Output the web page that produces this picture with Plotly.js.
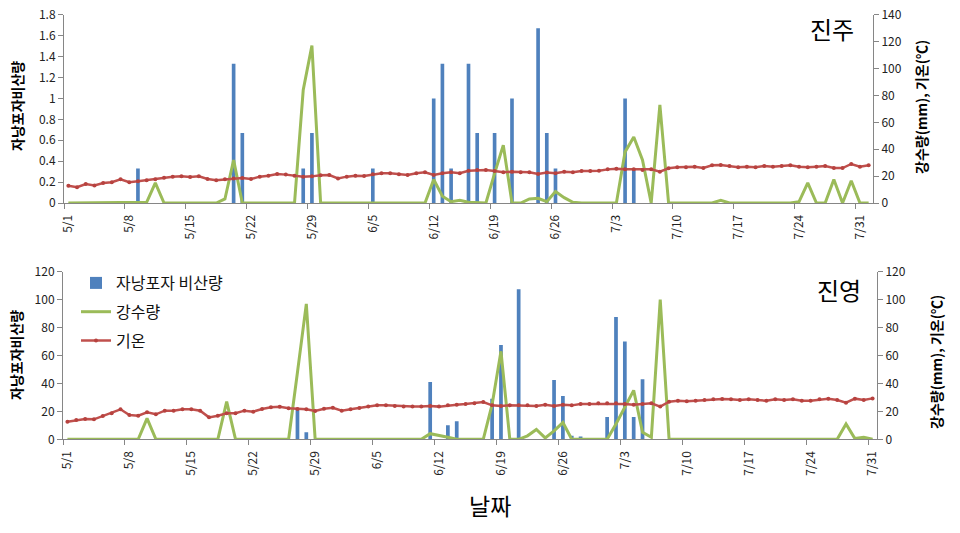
<!DOCTYPE html>
<html><head><meta charset="utf-8">
<script src="https://cdn.plot.ly/plotly-3.0.1.min.js"></script>
<style>html,body{margin:0;padding:0;background:#fff}#chart{width:960px;height:533px}</style>
</head><body><div id="chart"></div>
<script>
// ---- categories: consecutive days from 5/1 ----
function dayList(n){const out=[];const t0=Date.UTC(2014,4,1);for(let i=0;i<n;i++){out.push(new Date(t0+i*86400000).toISOString().slice(0,10));}return out;}
const jinjuDates = dayList(93);     // 5/1 - 8/1
const jinyeongDates = dayList(92);  // 5/1 - 7/31

// ---- 진주 ----
const jinjuSpore = [
0,0,0,0,0,0,0,0,0.33,0,
0,0,0,0,0,0,0,0,0,1.33,
0.67,0,0,0,0,0,0,0.33,0.67,0,
0,0,0,0,0,0.33,0,0,0,0,
0,0,1,1.33,0.33,0,1.33,0.67,0,0.67,
0,1,0,0,1.67,0.67,0.33,0,0,0,
0,0,0,0,1,0.33,0,0,0,0,
0,0,0,0,0,0,0,0,0,0,
0,0,0,0,0,0,0,0,0,0,
0,0,0];
const jinjuRain = [
0,0,0,0,0,0,0,0,0,0.5,
15,0,0,0,0,0,0,0,3,32,
0,0,0,0,0,0,0,84,117,0,
0,0,0,0,0,0,0,0,0,0,
0,0,17.5,5,1,2,0.5,0,0,22,
43,0,0,3,3.5,1,8.5,4,0.5,0,
0,0,0,0,38,49,32,0,73,0,
0,0,0,0,0,2,0,0,0,0,
0,0,0.5,0,1,15,0,0,17.5,0,
16.5,0,0];
const jinjuTemp = [
12.9,11.7,14.1,13.1,14.9,15.4,17.6,15.4,16.1,16.9,
17.6,18.8,19.6,19.8,19.3,19.8,17.8,16.9,17.6,18.3,
18.6,17.8,19.6,20.3,21.6,21.1,20.3,19.6,19.8,20.6,
20.8,18.3,19.6,20.3,20.1,21.3,22.1,22.1,21.3,20.8,
22.1,22.8,20.8,22.1,22.8,22.1,24.0,24.5,24.5,23.8,
22.8,23.3,22.8,22.8,21.6,22.6,22.1,23.3,22.8,23.8,
23.8,24.0,25.0,25.5,25.0,25.0,24.5,25.0,23.3,25.8,
26.5,26.5,27.0,26.0,28.0,28.3,27.5,26.5,27.0,26.5,
27.5,27.0,27.5,28.0,27.0,26.5,27.0,27.5,26.0,26.0,
29.0,27.0,28.0];

// ---- 진영 ----
const jinyeongSpore = [
0,0,0,0,0,0,0,0,0,0,
0,0,0,0,0,0,1,0,0,0,
0,0,0,0,0,0,22,5,0,0,
0,0,0,0,0,0,0,0.8,0,0,
0,41,0,10,13,0,0,0,29,67.5,
0,107.5,0,0,0,42.5,31,2.5,2,0,
0,16,87.5,70,16,43,0,0,0,1,
0,0,0,0,0,0,0,0,0,0,
0,0,0,0,0,0,0,0,0,0,
0,0];
const jinyeongRain = [
0,0,0,0,0,0,0,0,0,15,
0,0,0,0,0,0,0,0,27,0,
0,0,0,0,0,0,48,97,0,0,
0,0,0,0,0,0,0,0,0,0,
0,4,3,1.5,0,0,0,0,25,63,
0,0,2.5,7,1,6,12,0,0,0,
0,0,11,23,35,5,1.5,100,0,0,
0,0,0,0,0,0,0,0,0,0,
0,0,0,0,0,0,0,0,11,0.5,
1.5,0];
const jinyeongTemp = [
12.6,13.8,14.5,14.3,16.7,18.6,21.5,17.4,16.9,19.3,
17.9,20.5,20.5,21.5,21.5,20.5,15.7,16.9,18.6,18.6,
20.5,19.8,21.7,22.9,23.3,22.2,21.7,21.5,20.3,21.9,
22.6,20.5,21.5,22.4,23.4,24.3,24.3,23.9,23.4,23.4,
23.4,23.9,23.4,24.3,24.8,25.3,25.8,26.7,24.3,23.9,
24.3,24.3,24.3,23.9,24.8,23.9,24.8,24.3,25.3,25.3,
25.8,25.8,25.8,25.3,24.8,25.3,25.8,23.4,26.9,27.6,
27.2,27.6,28.1,28.6,28.9,28.6,28.1,28.6,28.1,27.6,
28.6,28.1,28.6,27.6,27.6,28.6,29.1,28.1,26.2,29.1,
28.1,29.3];

const seriesNames = ['자낭포자 비산량','강수량','기온'];
const siteNames = ['진주','진영'];

const FONT = '"Noto Sans CJK KR", "Malgun Gothic", sans-serif';
const DAY = 86400000;
const AX = '#868686';
const BLUE = '#4F81BD', GREEN = '#9BBB59', RED = '#C0504D';

function makeTraces(dates, spore, rain, temp, xa, yl, yr, legend){
  return [
    {type:'bar', x:dates, y:spore, xaxis:xa, yaxis:yl, name:seriesNames[0], legendgroup:'a',
     marker:{color:BLUE, line:{width:0}}, width:0.42*DAY, showlegend:legend},
    {type:'scatter', mode:'lines', x:dates, y:rain, xaxis:xa, yaxis:yr, name:seriesNames[1], legendgroup:'b',
     line:{color:GREEN, width:3}, showlegend:legend},
    {type:'scatter', mode:'lines+markers', x:dates, y:temp, xaxis:xa, yaxis:yr, name:seriesNames[2], legendgroup:'c',
     line:{color:RED, width:2.5}, marker:{color:'#B7423F', size:4}, showlegend:legend}
  ];
}

const data = [
  ...makeTraces(jinjuDates, jinjuSpore, jinjuRain, jinjuTemp, 'x', 'y', 'y2', false),
  ...makeTraces(jinyeongDates, jinyeongSpore, jinyeongRain, jinyeongTemp, 'x2', 'y3', 'y4', true)
];

const tickFont = {family:FONT, size:12, color:'#222'};
function xAxis(domain, anchor, endDate){
  return {type:'date', domain:domain, anchor:anchor, range:['2014-04-30 12:00', endDate],
    tickformat:'%-m/%-d', tick0:'2014-05-01', dtick:7*DAY, tickangle:-90, ticks:'', ticklabelstandoff:6,
    showline:true, linecolor:AX, linewidth:1, showgrid:false, zeroline:false, tickfont:tickFont,
    minor:{tick0:'2014-04-30 12:00', dtick:7*DAY, ticks:'outside', ticklen:5, tickcolor:AX, tickwidth:1, showgrid:false}};
}
function yAxis(domain, anchor, range, dtick, side, overlay){
  const a = {domain:domain, anchor:anchor, range:range, dtick:dtick, side:side,
    showline:true, linecolor:AX, linewidth:1, ticks:'outside', ticklen:5, tickcolor:AX,
    showgrid:false, zeroline:false, tickfont:tickFont, fixedrange:true};
  if (overlay) { a.overlaying = overlay; delete a.domain; }
  return a;
}

const W=960, H=533, L=63, R=83, T=14, B=93;
const pw = W-L-R, ph = H-T-B;
const px = v => (v-L)/pw, py = v => (H-B-v)/ph;

function label(x, y, text, size, angle){
  return {xref:'paper', yref:'paper', x:px(x), y:py(y), xanchor:'center', yanchor:'middle',
    text:text, textangle:angle||0, showarrow:false, font:{family:FONT, size:size, color:'#000'}};
}

const layout = {
  width:W, height:H, margin:{l:L, r:R, t:T, b:B},
  paper_bgcolor:'#fff', plot_bgcolor:'rgba(0,0,0,0)',
  font:{family:FONT, color:'#222'},
  barmode:'overlay',
  xaxis: xAxis([px(64), px(873)], 'y', '2014-08-01 12:00'),
  xaxis2: xAxis([0, 1], 'y3', '2014-07-31 12:00'),
  yaxis: yAxis([py(203), py(14.7)], 'x', [0,1.8], 0.2, 'left'),
  yaxis2: yAxis(null, 'x', [0,140], 20, 'right', 'y'),
  yaxis3: yAxis([py(439.3), py(271.7)], 'x2', [0,120], 20, 'left'),
  yaxis4: yAxis(null, 'x2', [0,120], 20, 'right', 'y3'),
  showlegend:true,
  legend:{x:px(76), y:py(266), xanchor:'left', yanchor:'top', bgcolor:'rgba(0,0,0,0)',
    font:{family:FONT, size:16, color:'#111'}, traceorder:'grouped', tracegroupgap:5, itemwidth:30},
  annotations:[
    label(832, 28, siteNames[0], 24),
    label(839, 289, siteNames[1], 24),
    label(17, 106, '<b>자낭포자비산량</b>', 14, -90),
    label(921, 107, '<b>강수량(mm), 기온(℃)</b>', 14, -90),
    label(16, 355, '<b>자낭포자비산량</b>', 14, -90),
    label(936, 362, '<b>강수량(mm), 기온(℃)</b>', 14, -90),
    label(490, 505, '날짜', 23)
  ]
};

Plotly.newPlot('chart', data, layout, {displayModeBar:false, staticPlot:true});
</script>
</body></html>
